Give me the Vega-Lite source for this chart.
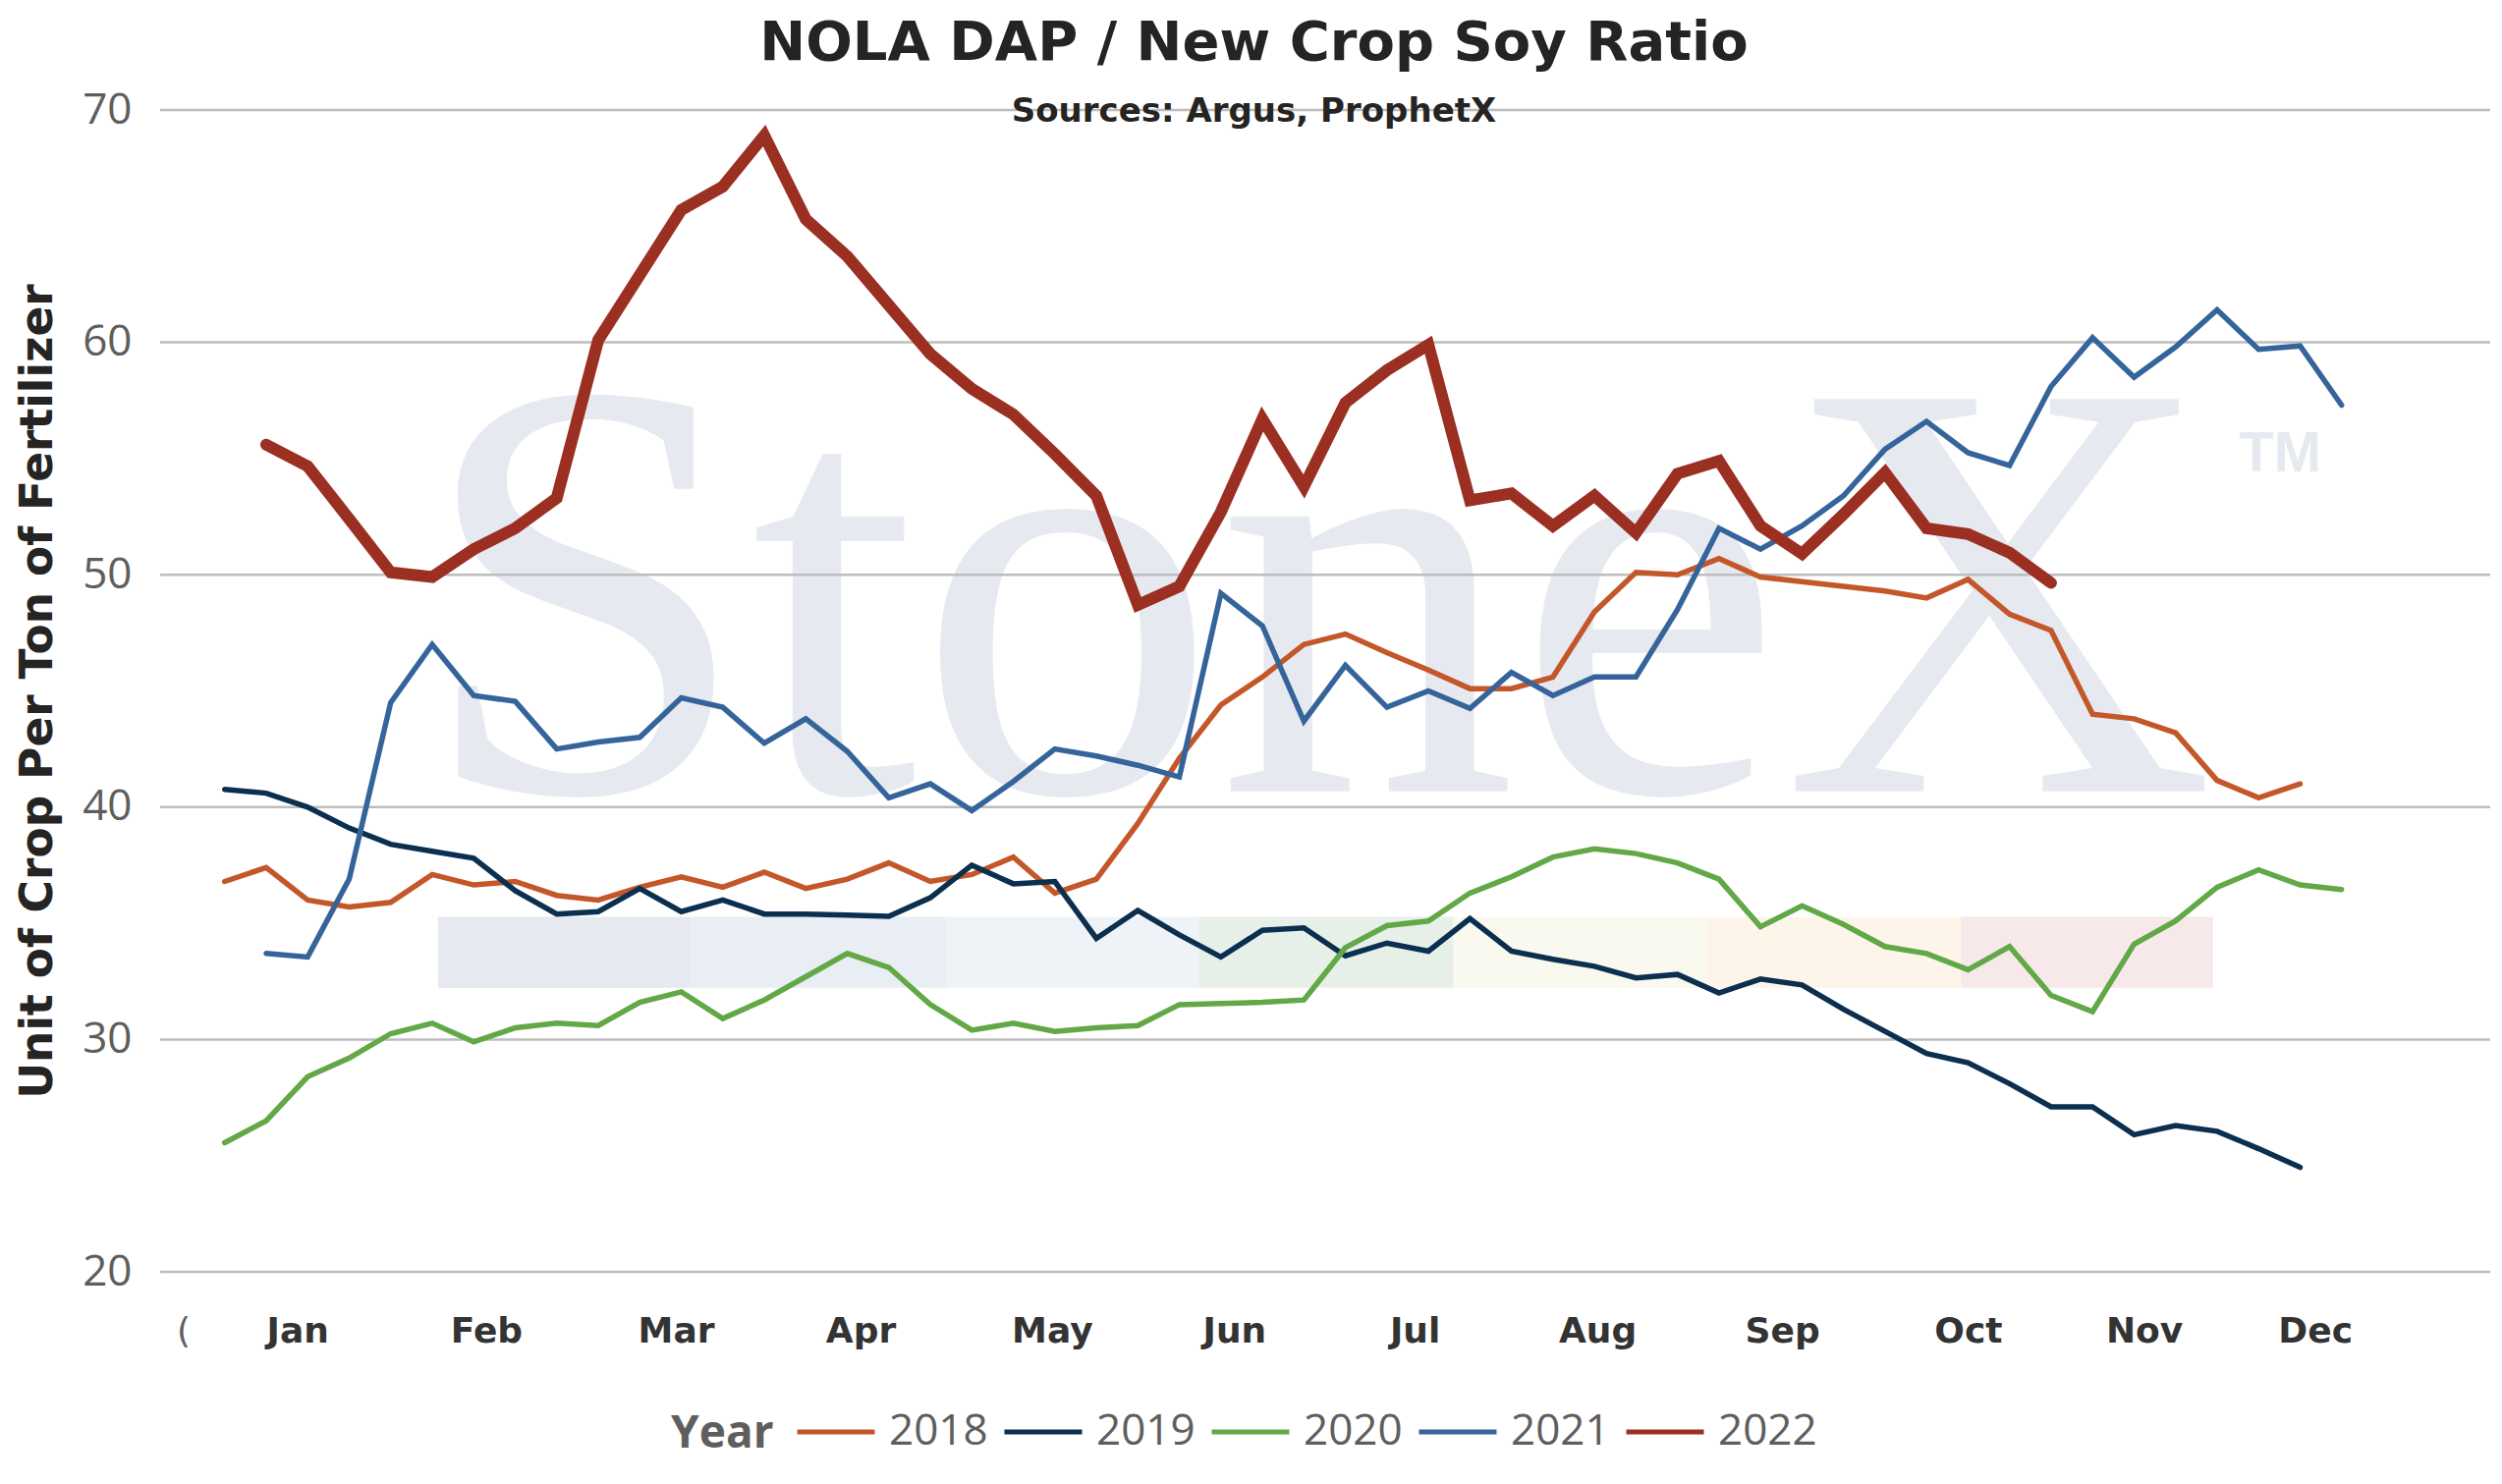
{
  "$schema": "https://vega.github.io/schema/vega-lite/v6.json",
  "width": 2372,
  "height": 1183,
  "autosize": {"type": "none"},
  "padding": {"left": 163, "top": 112, "right": 12, "bottom": 216},
  "background": "white",
  "title": {
    "text": "NOLA DAP / New Crop Soy Ratio",
    "subtitle": "Sources: Argus, ProphetX",
    "font": "DejaVu Sans",
    "fontSize": 56,
    "fontWeight": "bold",
    "color": "#252423",
    "subtitleFont": "DejaVu Sans",
    "subtitleFontSize": 34,
    "subtitleFontWeight": "bold",
    "subtitleColor": "#252423",
    "anchor": "middle",
    "frame": "bounds",
    "offset": -42,
    "subtitlePadding": 24
  },
  "config": {
    "view": {"stroke": null},
    "axis": {"grid": false, "domain": false, "ticks": false}
  },
  "datasets": {
    "ratio": [
      {"year": "2018", "week": 1, "value": 36.8}, {"year": "2018", "week": 2, "value": 37.4}, {"year": "2018", "week": 3, "value": 36.0}, {"year": "2018", "week": 4, "value": 35.7},
      {"year": "2018", "week": 5, "value": 35.9}, {"year": "2018", "week": 6, "value": 37.1}, {"year": "2018", "week": 7, "value": 36.65}, {"year": "2018", "week": 8, "value": 36.8},
      {"year": "2018", "week": 9, "value": 36.2}, {"year": "2018", "week": 10, "value": 36.0}, {"year": "2018", "week": 11, "value": 36.55}, {"year": "2018", "week": 12, "value": 37.0},
      {"year": "2018", "week": 13, "value": 36.55}, {"year": "2018", "week": 14, "value": 37.2}, {"year": "2018", "week": 15, "value": 36.5}, {"year": "2018", "week": 16, "value": 36.9},
      {"year": "2018", "week": 17, "value": 37.6}, {"year": "2018", "week": 18, "value": 36.8}, {"year": "2018", "week": 19, "value": 37.1}, {"year": "2018", "week": 20, "value": 37.85},
      {"year": "2018", "week": 21, "value": 36.3}, {"year": "2018", "week": 22, "value": 36.9}, {"year": "2018", "week": 23, "value": 39.3}, {"year": "2018", "week": 24, "value": 42.1},
      {"year": "2018", "week": 25, "value": 44.4}, {"year": "2018", "week": 26, "value": 45.6}, {"year": "2018", "week": 27, "value": 47.0}, {"year": "2018", "week": 28, "value": 47.45},
      {"year": "2018", "week": 29, "value": 46.65}, {"year": "2018", "week": 30, "value": 45.9}, {"year": "2018", "week": 31, "value": 45.1}, {"year": "2018", "week": 32, "value": 45.1},
      {"year": "2018", "week": 33, "value": 45.6}, {"year": "2018", "week": 34, "value": 48.4}, {"year": "2018", "week": 35, "value": 50.1}, {"year": "2018", "week": 36, "value": 50.0},
      {"year": "2018", "week": 37, "value": 50.7}, {"year": "2018", "week": 38, "value": 49.9}, {"year": "2018", "week": 39, "value": 49.7}, {"year": "2018", "week": 40, "value": 49.5},
      {"year": "2018", "week": 41, "value": 49.3}, {"year": "2018", "week": 42, "value": 49.0}, {"year": "2018", "week": 43, "value": 49.8}, {"year": "2018", "week": 44, "value": 48.3},
      {"year": "2018", "week": 45, "value": 47.6}, {"year": "2018", "week": 46, "value": 44.0}, {"year": "2018", "week": 47, "value": 43.8}, {"year": "2018", "week": 48, "value": 43.2},
      {"year": "2018", "week": 49, "value": 41.15}, {"year": "2018", "week": 50, "value": 40.4}, {"year": "2018", "week": 51, "value": 41.0},

      {"year": "2019", "week": 1, "value": 40.76}, {"year": "2019", "week": 2, "value": 40.6}, {"year": "2019", "week": 3, "value": 40.0}, {"year": "2019", "week": 4, "value": 39.1},
      {"year": "2019", "week": 5, "value": 38.4}, {"year": "2019", "week": 6, "value": 38.1}, {"year": "2019", "week": 7, "value": 37.8}, {"year": "2019", "week": 8, "value": 36.4},
      {"year": "2019", "week": 9, "value": 35.4}, {"year": "2019", "week": 10, "value": 35.5}, {"year": "2019", "week": 11, "value": 36.5}, {"year": "2019", "week": 12, "value": 35.5},
      {"year": "2019", "week": 13, "value": 36.0}, {"year": "2019", "week": 14, "value": 35.4}, {"year": "2019", "week": 15, "value": 35.4}, {"year": "2019", "week": 16, "value": 35.35},
      {"year": "2019", "week": 17, "value": 35.3}, {"year": "2019", "week": 18, "value": 36.1}, {"year": "2019", "week": 19, "value": 37.5}, {"year": "2019", "week": 20, "value": 36.7},
      {"year": "2019", "week": 21, "value": 36.8}, {"year": "2019", "week": 22, "value": 34.35}, {"year": "2019", "week": 23, "value": 35.55}, {"year": "2019", "week": 24, "value": 34.5},
      {"year": "2019", "week": 25, "value": 33.55}, {"year": "2019", "week": 26, "value": 34.7}, {"year": "2019", "week": 27, "value": 34.8}, {"year": "2019", "week": 28, "value": 33.6},
      {"year": "2019", "week": 29, "value": 34.15}, {"year": "2019", "week": 30, "value": 33.8}, {"year": "2019", "week": 31, "value": 35.2}, {"year": "2019", "week": 32, "value": 33.8},
      {"year": "2019", "week": 33, "value": 33.45}, {"year": "2019", "week": 34, "value": 33.15}, {"year": "2019", "week": 35, "value": 32.65}, {"year": "2019", "week": 36, "value": 32.8},
      {"year": "2019", "week": 37, "value": 32.0}, {"year": "2019", "week": 38, "value": 32.6}, {"year": "2019", "week": 39, "value": 32.35}, {"year": "2019", "week": 40, "value": 31.3},
      {"year": "2019", "week": 41, "value": 30.35}, {"year": "2019", "week": 42, "value": 29.4}, {"year": "2019", "week": 43, "value": 29.0}, {"year": "2019", "week": 44, "value": 28.1},
      {"year": "2019", "week": 45, "value": 27.1}, {"year": "2019", "week": 46, "value": 27.1}, {"year": "2019", "week": 47, "value": 25.9}, {"year": "2019", "week": 48, "value": 26.3},
      {"year": "2019", "week": 49, "value": 26.05}, {"year": "2019", "week": 50, "value": 25.3}, {"year": "2019", "week": 51, "value": 24.5},

      {"year": "2020", "week": 1, "value": 25.56}, {"year": "2020", "week": 2, "value": 26.5}, {"year": "2020", "week": 3, "value": 28.4}, {"year": "2020", "week": 4, "value": 29.2},
      {"year": "2020", "week": 5, "value": 30.25}, {"year": "2020", "week": 6, "value": 30.7}, {"year": "2020", "week": 7, "value": 29.9}, {"year": "2020", "week": 8, "value": 30.5},
      {"year": "2020", "week": 9, "value": 30.7}, {"year": "2020", "week": 10, "value": 30.6}, {"year": "2020", "week": 11, "value": 31.6}, {"year": "2020", "week": 12, "value": 32.05},
      {"year": "2020", "week": 13, "value": 30.9}, {"year": "2020", "week": 14, "value": 31.7}, {"year": "2020", "week": 15, "value": 32.7}, {"year": "2020", "week": 16, "value": 33.7},
      {"year": "2020", "week": 17, "value": 33.1}, {"year": "2020", "week": 18, "value": 31.5}, {"year": "2020", "week": 19, "value": 30.4}, {"year": "2020", "week": 20, "value": 30.7},
      {"year": "2020", "week": 21, "value": 30.35}, {"year": "2020", "week": 22, "value": 30.5}, {"year": "2020", "week": 23, "value": 30.6}, {"year": "2020", "week": 24, "value": 31.5},
      {"year": "2020", "week": 25, "value": 31.55}, {"year": "2020", "week": 26, "value": 31.6}, {"year": "2020", "week": 27, "value": 31.7}, {"year": "2020", "week": 28, "value": 33.95},
      {"year": "2020", "week": 29, "value": 34.9}, {"year": "2020", "week": 30, "value": 35.1}, {"year": "2020", "week": 31, "value": 36.3}, {"year": "2020", "week": 32, "value": 37.0},
      {"year": "2020", "week": 33, "value": 37.85}, {"year": "2020", "week": 34, "value": 38.2}, {"year": "2020", "week": 35, "value": 38.0}, {"year": "2020", "week": 36, "value": 37.6},
      {"year": "2020", "week": 37, "value": 36.9}, {"year": "2020", "week": 38, "value": 34.85}, {"year": "2020", "week": 39, "value": 35.75}, {"year": "2020", "week": 40, "value": 34.95},
      {"year": "2020", "week": 41, "value": 34.0}, {"year": "2020", "week": 42, "value": 33.7}, {"year": "2020", "week": 43, "value": 33.0}, {"year": "2020", "week": 44, "value": 34.0},
      {"year": "2020", "week": 45, "value": 31.9}, {"year": "2020", "week": 46, "value": 31.2}, {"year": "2020", "week": 47, "value": 34.1}, {"year": "2020", "week": 48, "value": 35.1},
      {"year": "2020", "week": 49, "value": 36.55}, {"year": "2020", "week": 50, "value": 37.3}, {"year": "2020", "week": 51, "value": 36.65}, {"year": "2020", "week": 52, "value": 36.45},

      {"year": "2021", "week": 2, "value": 33.7}, {"year": "2021", "week": 3, "value": 33.55}, {"year": "2021", "week": 4, "value": 36.9},
      {"year": "2021", "week": 5, "value": 44.5}, {"year": "2021", "week": 6, "value": 47.0}, {"year": "2021", "week": 7, "value": 44.8}, {"year": "2021", "week": 8, "value": 44.55},
      {"year": "2021", "week": 9, "value": 42.5}, {"year": "2021", "week": 10, "value": 42.8}, {"year": "2021", "week": 11, "value": 43.0}, {"year": "2021", "week": 12, "value": 44.7},
      {"year": "2021", "week": 13, "value": 44.3}, {"year": "2021", "week": 14, "value": 42.75}, {"year": "2021", "week": 15, "value": 43.8}, {"year": "2021", "week": 16, "value": 42.4},
      {"year": "2021", "week": 17, "value": 40.4}, {"year": "2021", "week": 18, "value": 41.0}, {"year": "2021", "week": 19, "value": 39.85}, {"year": "2021", "week": 20, "value": 41.1},
      {"year": "2021", "week": 21, "value": 42.5}, {"year": "2021", "week": 22, "value": 42.2}, {"year": "2021", "week": 23, "value": 41.8}, {"year": "2021", "week": 24, "value": 41.3},
      {"year": "2021", "week": 25, "value": 49.2}, {"year": "2021", "week": 26, "value": 47.8}, {"year": "2021", "week": 27, "value": 43.7}, {"year": "2021", "week": 28, "value": 46.1},
      {"year": "2021", "week": 29, "value": 44.3}, {"year": "2021", "week": 30, "value": 45.0}, {"year": "2021", "week": 31, "value": 44.25}, {"year": "2021", "week": 32, "value": 45.8},
      {"year": "2021", "week": 33, "value": 44.8}, {"year": "2021", "week": 34, "value": 45.6}, {"year": "2021", "week": 35, "value": 45.6}, {"year": "2021", "week": 36, "value": 48.5},
      {"year": "2021", "week": 37, "value": 52.0}, {"year": "2021", "week": 38, "value": 51.1}, {"year": "2021", "week": 39, "value": 52.1}, {"year": "2021", "week": 40, "value": 53.4},
      {"year": "2021", "week": 41, "value": 55.4}, {"year": "2021", "week": 42, "value": 56.6}, {"year": "2021", "week": 43, "value": 55.25}, {"year": "2021", "week": 44, "value": 54.7},
      {"year": "2021", "week": 45, "value": 58.1}, {"year": "2021", "week": 46, "value": 60.2}, {"year": "2021", "week": 47, "value": 58.5}, {"year": "2021", "week": 48, "value": 59.8},
      {"year": "2021", "week": 49, "value": 61.4}, {"year": "2021", "week": 50, "value": 59.7}, {"year": "2021", "week": 51, "value": 59.85}, {"year": "2021", "week": 52, "value": 57.3},

      {"year": "2022", "week": 2, "value": 55.6}, {"year": "2022", "week": 3, "value": 54.67}, {"year": "2022", "week": 4, "value": 52.4},
      {"year": "2022", "week": 5, "value": 50.1}, {"year": "2022", "week": 6, "value": 49.9}, {"year": "2022", "week": 7, "value": 51.1}, {"year": "2022", "week": 8, "value": 52.0},
      {"year": "2022", "week": 9, "value": 53.3}, {"year": "2022", "week": 10, "value": 60.1}, {"year": "2022", "week": 11, "value": 62.9}, {"year": "2022", "week": 12, "value": 65.7},
      {"year": "2022", "week": 13, "value": 66.7}, {"year": "2022", "week": 14, "value": 68.9}, {"year": "2022", "week": 15, "value": 65.3}, {"year": "2022", "week": 16, "value": 63.7},
      {"year": "2022", "week": 17, "value": 61.6}, {"year": "2022", "week": 18, "value": 59.5}, {"year": "2022", "week": 19, "value": 58.0}, {"year": "2022", "week": 20, "value": 56.9},
      {"year": "2022", "week": 21, "value": 55.2}, {"year": "2022", "week": 22, "value": 53.4}, {"year": "2022", "week": 23, "value": 48.7}, {"year": "2022", "week": 24, "value": 49.5},
      {"year": "2022", "week": 25, "value": 52.7}, {"year": "2022", "week": 26, "value": 56.7}, {"year": "2022", "week": 27, "value": 53.8}, {"year": "2022", "week": 28, "value": 57.4},
      {"year": "2022", "week": 29, "value": 58.8}, {"year": "2022", "week": 30, "value": 59.9}, {"year": "2022", "week": 31, "value": 53.2}, {"year": "2022", "week": 32, "value": 53.5},
      {"year": "2022", "week": 33, "value": 52.1}, {"year": "2022", "week": 34, "value": 53.4}, {"year": "2022", "week": 35, "value": 51.8}, {"year": "2022", "week": 36, "value": 54.35},
      {"year": "2022", "week": 37, "value": 54.9}, {"year": "2022", "week": 38, "value": 52.1}, {"year": "2022", "week": 39, "value": 50.9}, {"year": "2022", "week": 40, "value": 52.6},
      {"year": "2022", "week": 41, "value": 54.4}, {"year": "2022", "week": 42, "value": 52.0}, {"year": "2022", "week": 43, "value": 51.75}, {"year": "2022", "week": 44, "value": 50.95},
      {"year": "2022", "week": 45, "value": 49.65}
    ]
  },
  "layer": [
    {
      "data": {"values": [
        {"seg": "1", "week": 6.14, "week2": 12.23, "value": 32.22, "value2": 35.28},
        {"seg": "2", "week": 12.23, "week2": 18.38, "value": 32.22, "value2": 35.28},
        {"seg": "3", "week": 18.38, "week2": 24.47, "value": 32.22, "value2": 35.28},
        {"seg": "4", "week": 24.47, "week2": 30.6, "value": 32.22, "value2": 35.28},
        {"seg": "5", "week": 30.6, "week2": 36.72, "value": 32.22, "value2": 35.28},
        {"seg": "6", "week": 36.72, "week2": 42.83, "value": 32.22, "value2": 35.28},
        {"seg": "7", "week": 42.83, "week2": 48.9, "value": 32.22, "value2": 35.28}
      ]},
      "mark": {"type": "rect", "opacity": 1},
      "encoding": {
        "x": {"field": "week", "type": "quantitative", "scale": {"domain": [-0.555, 55.58], "nice": false, "zero": false}},
        "x2": {"field": "week2"},
        "y": {"field": "value", "type": "quantitative", "scale": {"domain": [20, 70], "nice": false, "zero": false}},
        "y2": {"field": "value2"},
        "fill": {
          "field": "seg", "type": "nominal", "legend": null,
          "scale": {"domain": ["1", "2", "3", "4", "5", "6", "7"], "range": ["#e6e9ef", "#e9edf4", "#eff3f8", "#e7efe9", "#f9f9ef", "#fdf5ea", "#f7e9ea"]}
        }
      }
    },
    {
      "data": {"values": [{"label": "StoneX", "week": 27.3, "value": 40.68}]},
      "mark": {"type": "text", "font": "Liberation Serif", "fontSize": 610, "color": "#e6e9ef", "align": "center", "baseline": "alphabetic"},
      "encoding": {
        "x": {"field": "week", "type": "quantitative", "scale": {"domain": [-0.555, 55.58], "nice": false, "zero": false}},
        "y": {"field": "value", "type": "quantitative", "scale": {"domain": [20, 70], "nice": false, "zero": false}},
        "text": {"field": "label"}
      }
    },
    {
      "data": {"values": [{"label": "TM", "week": 50.52, "value": 54.45}]},
      "mark": {"type": "text", "font": "Liberation Sans", "fontWeight": "bold", "fontSize": 58, "color": "#e6e9ef", "align": "center", "baseline": "alphabetic"},
      "encoding": {
        "x": {"field": "week", "type": "quantitative", "scale": {"domain": [-0.555, 55.58], "nice": false, "zero": false}},
        "y": {"field": "value", "type": "quantitative", "scale": {"domain": [20, 70], "nice": false, "zero": false}},
        "text": {"field": "label"}
      }
    },
    {
      "data": {"values": [{"value": 20}, {"value": 30}, {"value": 40}, {"value": 50}, {"value": 60}, {"value": 70}]},
      "mark": {"type": "rule", "color": "#bdbdbd", "strokeWidth": 2.5},
      "encoding": {
        "y": {"field": "value", "type": "quantitative", "scale": {"domain": [20, 70], "nice": false, "zero": false}}
      }
    },
    {
      "data": {"name": "ratio"},
      "mark": {"type": "line", "strokeJoin": "miter", "strokeCap": "round"},
      "encoding": {
        "x": {
          "field": "week", "type": "quantitative",
          "scale": {"domain": [-0.555, 55.58], "nice": false, "zero": false},
          "axis": {
            "title": null,
            "values": [0, 2.75, 7.3, 11.87, 16.32, 20.93, 25.32, 29.67, 34.07, 38.52, 43, 47.24, 51.36],
            "labelExpr": "['(','Jan','Feb','Mar','Apr','May','Jun','Jul','Aug','Sep','Oct','Nov','Dec'][indexof([0,2.75,7.3,11.87,16.32,20.93,25.32,29.67,34.07,38.52,43,47.24,51.36], datum.value)]",
            "labelFont": "DejaVu Sans",
            "labelFontWeight": {"condition": {"test": "datum.value < 1", "value": "normal"}, "value": "bold"},
            "labelColor": {"condition": {"test": "datum.value < 1", "value": "#605e5c"}, "value": "#333333"},
            "labelFontSize": 36,
            "labelPadding": 43, "labelFlush": false, "labelOverlap": false
          }
        },
        "y": {
          "field": "value", "type": "quantitative",
          "scale": {"domain": [20, 70], "nice": false, "zero": false},
          "axis": {
            "title": "Unit of Crop Per Ton of Fertilizer",
            "values": [20, 30, 40, 50, 60, 70],
            "labelFont": "Open Sans", "labelFontSize": 44, "labelColor": "#605e5c", "labelPadding": 29,
            "titleFont": "DejaVu Sans", "titleFontWeight": "bold", "titleFontSize": 45.5, "titleColor": "#252423", "titlePadding": 21
          }
        },
        "color": {
          "field": "year", "type": "nominal",
          "scale": {"domain": ["2018", "2019", "2020", "2021", "2022"], "range": ["#c4572a", "#0b2f4f", "#62a846", "#35649b", "#9b3022"]},
          "legend": {
            "title": "Year", "orient": "none", "legendX": 520, "legendY": 1304, "direction": "horizontal",
            "titleOrient": "left", "titleAnchor": "start", "titleBaseline": "line-top", "titleLineHeight": 90,
            "titleFont": "Open Sans", "titleFontWeight": "bold", "titleFontSize": 46, "titleColor": "#605e5c", "titlePadding": 21,
            "labelFont": "Open Sans", "labelFontSize": 44, "labelColor": "#605e5c", "labelOffset": 12,
            "symbolType": "stroke", "symbolSize": 6241, "symbolStrokeWidth": 5, "columnPadding": 6
          }
        },
        "strokeWidth": {"condition": {"test": "datum.year == '2022'", "value": 12}, "value": 5.5}
      }
    }
  ]
}
